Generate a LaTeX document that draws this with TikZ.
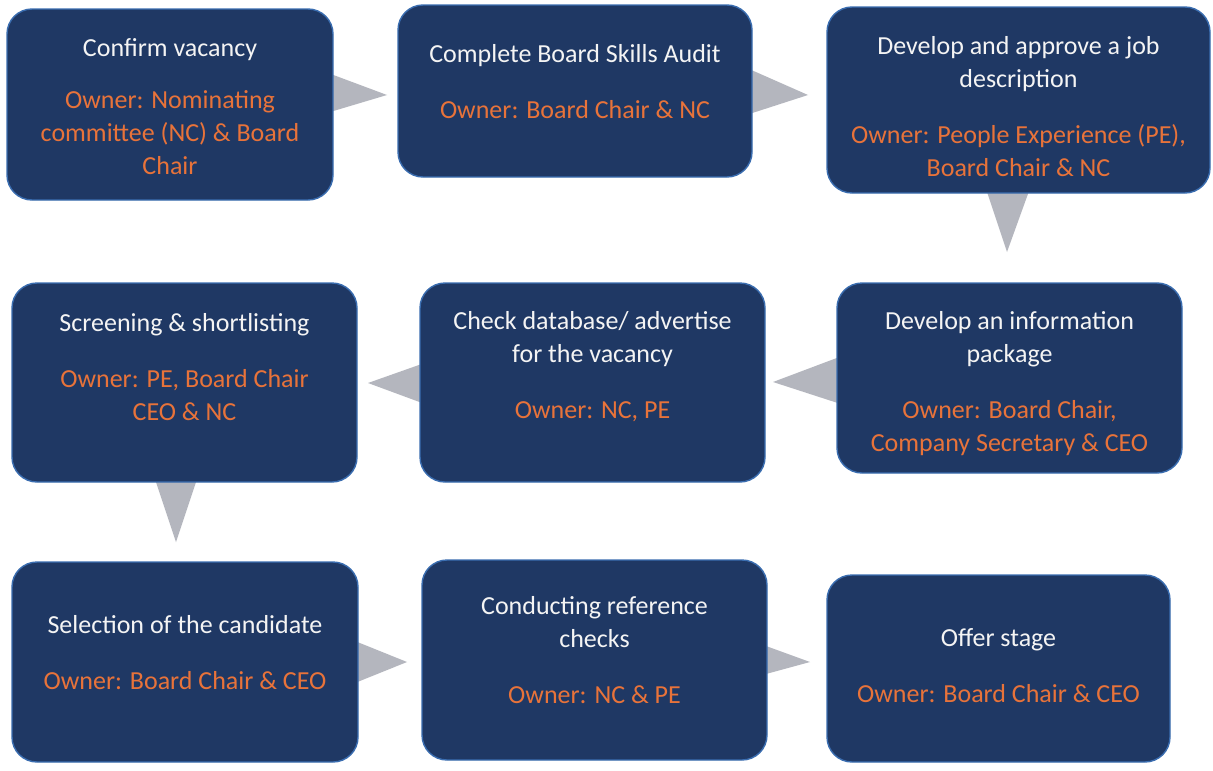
\documentclass[tikz,border=0pt]{standalone}
\usepackage{fontspec}
\setmainfont{Carlito}
\usetikzlibrary{calc}
\definecolor{boxfill}{HTML}{1F3864}
\definecolor{boxline}{HTML}{3A6DB0}
\definecolor{ownertxt}{HTML}{E8733A}
\definecolor{titletxt}{HTML}{F4F4F4}
\definecolor{pointer}{HTML}{B4B6BE}
\tikzset{
  stage/.style={draw=boxline, line width=1.4pt, fill=boxfill, rounded corners=25pt,
                inner sep=0pt, outer sep=0pt},
  lbl/.style={align=center, font=\fontsize{26}{33}\selectfont, text=titletxt, inner sep=0pt},
  ptr/.style={fill=pointer, draw=none},
}
% one orange line of an owner entry
\newcommand{\ow}[1]{\textcolor{ownertxt}{#1}}
\newcommand{\gap}{\\[23pt]}
\newcommand{\stagebox}[5]{% name, x1, y1, x2, y2
  \node[stage, minimum width={(#4-#2)*1pt}, minimum height={(#5-#3)*1pt}]
    (#1) at ({(#2+#4)/2},{(#3+#5)/2}) {};}
\begin{document}
\begin{tikzpicture}[x=1pt,y=-1pt]
  \useasboundingbox (0,0) rectangle (1213,771);
  \fill[white] (0,0) rectangle (1213,771);

  % pointer tips
  \coordinate (p1) at (387,95);
  \coordinate (p2) at (808,95);
  \coordinate (p3) at (1007,252);
  \coordinate (p4) at (773,382);
  \coordinate (p5) at (368,383);
  \coordinate (p6) at (176,542);
  \coordinate (p7) at (407,662);
  \coordinate (p8) at (810,662);

  % pointers sit behind the boxes
  \fill[ptr] (320,70) -- (p1) -- (320,115) -- cycle;
  \fill[ptr] (740,65) -- (p2) -- (740,117) -- cycle;
  \fill[ptr] (983,180) -- (p3) -- (1033,180) -- cycle;
  \fill[ptr] (850,353) -- (p4) -- (850,407) -- cycle;
  \fill[ptr] (433,360) -- (p5) -- (433,407) -- cycle;
  \fill[ptr] (152,470) -- (p6) -- (200,470) -- cycle;
  \fill[ptr] (345,637) -- (p7) -- (345,687) -- cycle;
  \fill[ptr] (755,642) -- (p8) -- (755,677) -- cycle;

  % stage boxes
  \stagebox{b1}{7}{9}{333}{200}
  \stagebox{b2}{398}{5}{752}{177}
  \stagebox{b3}{827}{7}{1210}{193}
  \stagebox{b4}{837}{283}{1182}{473}
  \stagebox{b5}{420}{283}{765}{482}
  \stagebox{b6}{12}{283}{357}{482}
  \stagebox{b7}{12}{562}{358}{762}
  \stagebox{b8}{422}{560}{767}{760}
  \stagebox{b9}{827}{575}{1170}{762}

  % texts
  \node[lbl] (t1) at ($(b1.north)+(0,98)$) {Confirm vacancy\\[19pt]\ow{Owner: Nominating}\\\ow{committee (NC) \& Board}\\\ow{Chair}};
  \node[lbl] (t2) at ($(b2.north)+(0,77)$) {Complete Board Skills Audit\gap\ow{Owner: Board Chair \& NC}};
  \node[lbl] (t3) at ($(b3.north)+(0,100)$) {Develop and approve a job\\description\gap\ow{Owner: People Experience (PE),}\\\ow{Board Chair \& NC}};
  \node[lbl] (t4) at ($(b4.north)+(0,101)$) {Develop an information\\package\gap\ow{Owner: Board Chair,}\\\ow{Company Secretary \& CEO}};
  \node[lbl] (t5) at ($(b5.north)+(0,84)$) {Check database/ advertise\\for the vacancy\gap\ow{Owner: NC, PE}};
  \node[lbl] (t6) at ($(b6.north)+(0,84)$) {Screening \& shortlisting\gap\ow{Owner: PE, Board Chair}\\\ow{CEO \& NC}};
  \node[lbl] (t7) at ($(b7.north)+(0,91)$) {Selection of the candidate\gap\ow{Owner: Board Chair \& CEO}};
  \node[lbl] (t8) at ($(b8.north)+(0,90)$) {Conducting reference\\checks\gap\ow{Owner: NC \& PE}};
  \node[lbl] (t9) at ($(b9.north)+(0,91)$) {Offer stage\gap\ow{Owner: Board Chair \& CEO}};
\end{tikzpicture}
\end{document}
